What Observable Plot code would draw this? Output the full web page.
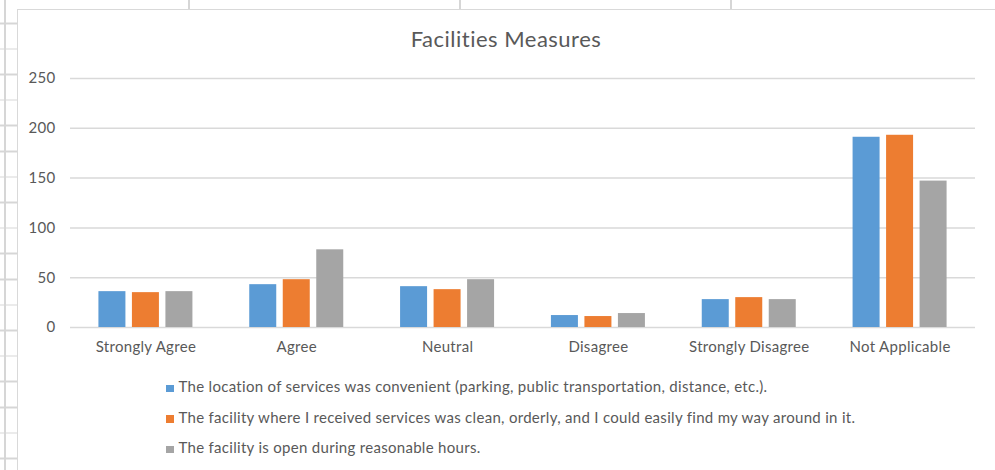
<!DOCTYPE html>
<html>
<head>
<meta charset="utf-8">
<script src="https://cdn.jsdelivr.net/npm/d3@7"></script>
<script src="https://cdn.jsdelivr.net/npm/@observablehq/plot@0.6"></script>
<style>
  html, body { margin: 0; padding: 0; background: #ffffff; }
  body { width: 995px; height: 470px; position: relative; overflow: hidden; font-family: Lato, "Open Sans", sans-serif; }
  #sheet-left { position: absolute; left: 0; top: 0; width: 17px; height: 470px;
    background-image: repeating-linear-gradient(to bottom, transparent 0px, transparent 22px, #d6d6d6 22px, #d6d6d6 23.5px, transparent 23.5px, transparent 25.6px);
    background-position: 0 0.5px; }
  #sheet-left-v { position: absolute; left: 4px; top: 0; width: 1.5px; height: 470px; background: #d6d6d6; }
  .colline { position: absolute; top: 0; width: 1.5px; height: 10px; background: #d6d6d6; }
  #chartbox { position: absolute; left: 17px; top: 9px; width: 990px; height: 470px; background: #fff;
    border-left: 1.5px solid #d9d9d9; border-top: 1.5px solid #d9d9d9; }
  #title { position: absolute; left: 0; width: 1012px; top: 27px; text-align: center; font-size: 22px; letter-spacing: 0.5px; line-height: 24px; color: #595959; }
  #plot { position: absolute; left: 0; top: 60px; }
  #plot text { letter-spacing: 0.3px; }
  #legend { position: absolute; left: 166px; top: 376px; font-size: 15px; letter-spacing: 0.3px; color: #595959; }
  .lg { position: relative; height: 30.5px; line-height: 20px; white-space: nowrap; }
  .sw { display: inline-block; width: 7.5px; height: 7.5px; margin-right: 5px; vertical-align: 0px; }
</style>
</head>
<body>
<div id="sheet-left"></div>
<div id="sheet-left-v"></div>
<div class="colline" style="left:188px"></div>
<div class="colline" style="left:459px"></div>
<div class="colline" style="left:730px"></div>
<div id="chartbox"></div>
<div id="title">Facilities Measures</div>
<div id="plot"></div>
<div id="legend"></div>
<script>
const categories = ["Strongly Agree", "Agree", "Neutral", "Disagree", "Strongly Disagree", "Not Applicable"];
const seriesNames = [
  "The location of services was convenient (parking, public transportation, distance, etc.).",
  "The facility where I received services was clean, orderly, and I could easily find my way around in it.",
  "The facility is open during reasonable hours."
];
const locationValues = [36, 43, 41, 12, 28, 191];
const cleanValues = [35, 48, 38, 11, 30, 193];
const hoursValues = [36, 78, 48, 14, 28, 147];
const seriesColors = ["#5B9BD5", "#ED7D31", "#A5A5A5"];
const yTicks = [0, 50, 100, 150, 200, 250];

const seriesValues = [locationValues, cleanValues, hoursValues];
const rows = seriesValues.map((vals, s) => categories.map((c, i) => ({category: c, value: vals[i], series: seriesNames[s]})));

const W = 995, ML = 70, MR = 20;
const bandwidth = (W - ML - MR) / categories.length;
const barW = 27, step = 33.5;
const inset = (bandwidth - barW) / 2;

const chart = Plot.plot({
  width: W,
  height: 300,
  marginLeft: ML,
  marginRight: MR,
  marginTop: 18,
  marginBottom: 33,
  style: {fontFamily: "Lato, sans-serif", fontSize: "15px", color: "#595959", background: "transparent"},
  x: {domain: categories, padding: 0, round: false, label: null, tickSize: 0, tickPadding: 14},
  y: {domain: [0, 250], ticks: yTicks, label: null, tickSize: 0, tickPadding: 15},
  color: {domain: seriesNames, range: seriesColors},
  marks: [
    Plot.ruleY(yTicks, {stroke: "#d9d9d9", strokeWidth: 1.5}),
    ...rows.map((data, s) => Plot.barY(data, {
      x: "category", y: "value", fill: "series",
      insetLeft: inset, insetRight: inset, dx: (s - 1) * step
    }))
  ]
});
document.getElementById("plot").appendChild(chart);

const legend = document.getElementById("legend");
seriesNames.forEach((name, i) => {
  const row = document.createElement("div");
  row.className = "lg";
  const sw = document.createElement("span");
  sw.className = "sw";
  sw.style.background = seriesColors[i];
  row.appendChild(sw);
  row.appendChild(document.createTextNode(name));
  legend.appendChild(row);
});
</script>
</body>
</html>
